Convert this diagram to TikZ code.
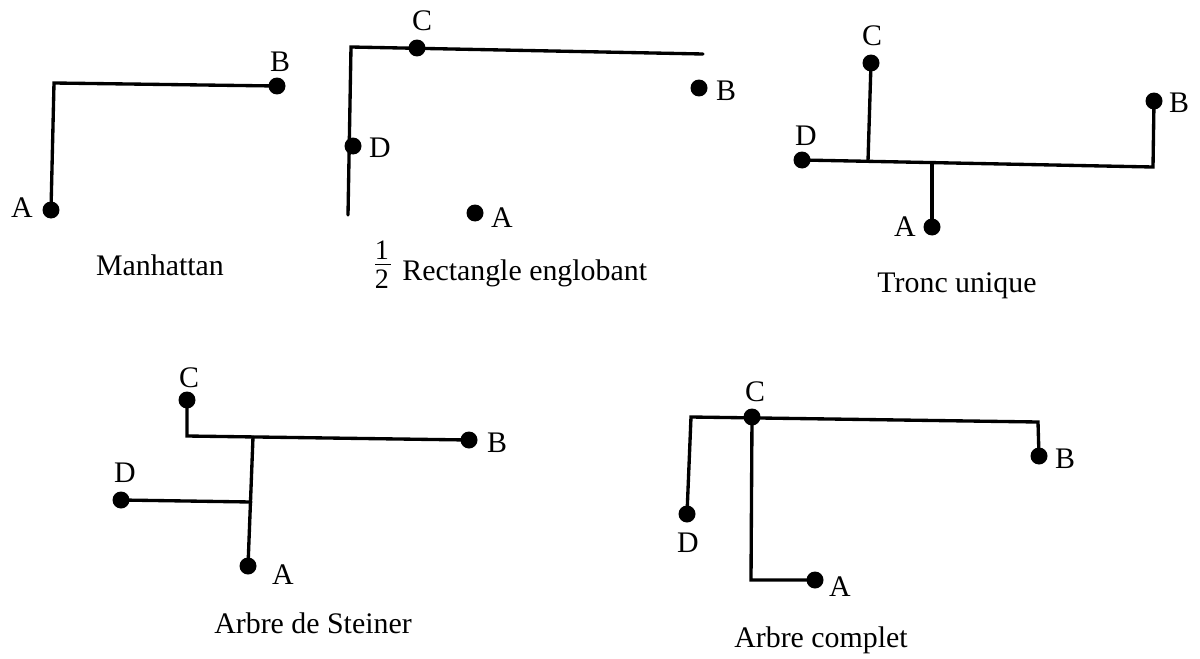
\documentclass[tikz,border=0pt]{standalone}
\usepackage{fontspec}
\setmainfont{Liberation Serif}
\usepackage{tikz}

\tikzset{
  pt/.style={fill, circle, inner sep=0pt, minimum size=0.34cm},
  lab/.style={inner sep=0pt, font=\fontsize{17}{20}\selectfont},
  titre/.style={inner sep=0pt, anchor=base, font=\fontsize{17}{20}\selectfont},
  wire/.style={line width=1.9pt, line cap=round, line join=miter}
}

\begin{document}
\begin{tikzpicture}[x=0.02cm, y=-0.02cm]
\useasboundingbox (0,0) rectangle (1200,659);

\node[pt] (mA) at (51,210) {};
\node[pt] (mB) at (277,86) {};
\coordinate (m1) at (54,83);
\node[lab] (mAl) at (22,208) {A};
\node[lab] (mBl) at (280,62) {B};
\draw[wire] (mA.center) -- (m1) -- (mB.center);
\node[titre] (mT) at (160,275) {Manhattan};

\coordinate (r1) at (351,47);
\coordinate (r2) at (703,54);
\coordinate (r3) at (348,215);
\draw[wire] (r3) -- (r1) -- (r2);
\node[pt] (rC) at (417,48) {};
\node[pt] (rD) at (353,146) {};
\node[pt] (rB) at (699,88) {};
\node[pt] (rA) at (475,213) {};
\node[lab] (rCl) at (422,21) {C};
\node[lab] (rDl) at (380,148) {D};
\node[lab] (rBl) at (726,91) {B};
\node[lab] (rAl) at (502,218) {A};
\node[titre, anchor=base west] (rT) at (402,280) {Rectangle englobant};
\node[lab, font=\fontsize{16}{18}\selectfont] (rN) at (382,250) {1};
\node[lab, font=\fontsize{16}{18}\selectfont] (rM) at (382,279) {2};
\draw[line width=0.8pt] (375,264.5) -- (391,264.5);

\node[pt] (tC) at (871,63) {};
\node[pt] (tD) at (802,160) {};
\node[pt] (tB) at (1154,101) {};
\node[pt] (tA) at (932,227) {};
\coordinate (t1) at (868,161);
\coordinate (t2) at (1153,167);
\coordinate (t3) at (932,163);
\draw[wire] (tD.center) -- (t2) -- (tB.center);
\draw[wire] (tC.center) -- (t1);
\draw[wire] (t3) -- (tA.center);
\node[lab] (tCl) at (872,36) {C};
\node[lab] (tDl) at (806,136) {D};
\node[lab] (tBl) at (1179,103) {B};
\node[lab] (tAl) at (905,227) {A};
\node[titre] (tT) at (957,292) {Tronc unique};

\node[pt] (sC) at (187,400) {};
\node[pt] (sB) at (469,440) {};
\node[pt] (sD) at (121,500) {};
\node[pt] (sA) at (248,566) {};
\coordinate (s1) at (187,436);
\coordinate (s2) at (253,437);
\coordinate (s3) at (251,502);
\draw[wire] (sC.center) -- (s1) -- (sB.center);
\draw[wire] (s2) -- (sA.center);
\draw[wire] (sD.center) -- (s3);
\node[lab] (sCl) at (189,378) {C};
\node[lab] (sBl) at (497,443) {B};
\node[lab] (sDl) at (125,473) {D};
\node[lab] (sAl) at (283,575) {A};
\node[titre] (sT) at (313,633) {Arbre de Steiner};

\node[pt] (cC) at (752,417) {};
\node[pt] (cB) at (1039,456) {};
\node[pt] (cD) at (687,514) {};
\node[pt] (cA) at (815,580) {};
\coordinate (c1) at (691,417);
\coordinate (c2) at (1038,422);
\coordinate (c3) at (751,580);
\draw[wire] (cD.center) -- (c1) -- (c2) -- (cB.center);
\draw[wire] (cC.center) -- (c3) -- (cA.center);
\node[lab] (cCl) at (755,392) {C};
\node[lab] (cBl) at (1065,459) {B};
\node[lab] (cDl) at (688,543) {D};
\node[lab] (cAl) at (840,587) {A};
\node[titre] (cT) at (821,647) {Arbre complet};
\end{tikzpicture}
\end{document}
